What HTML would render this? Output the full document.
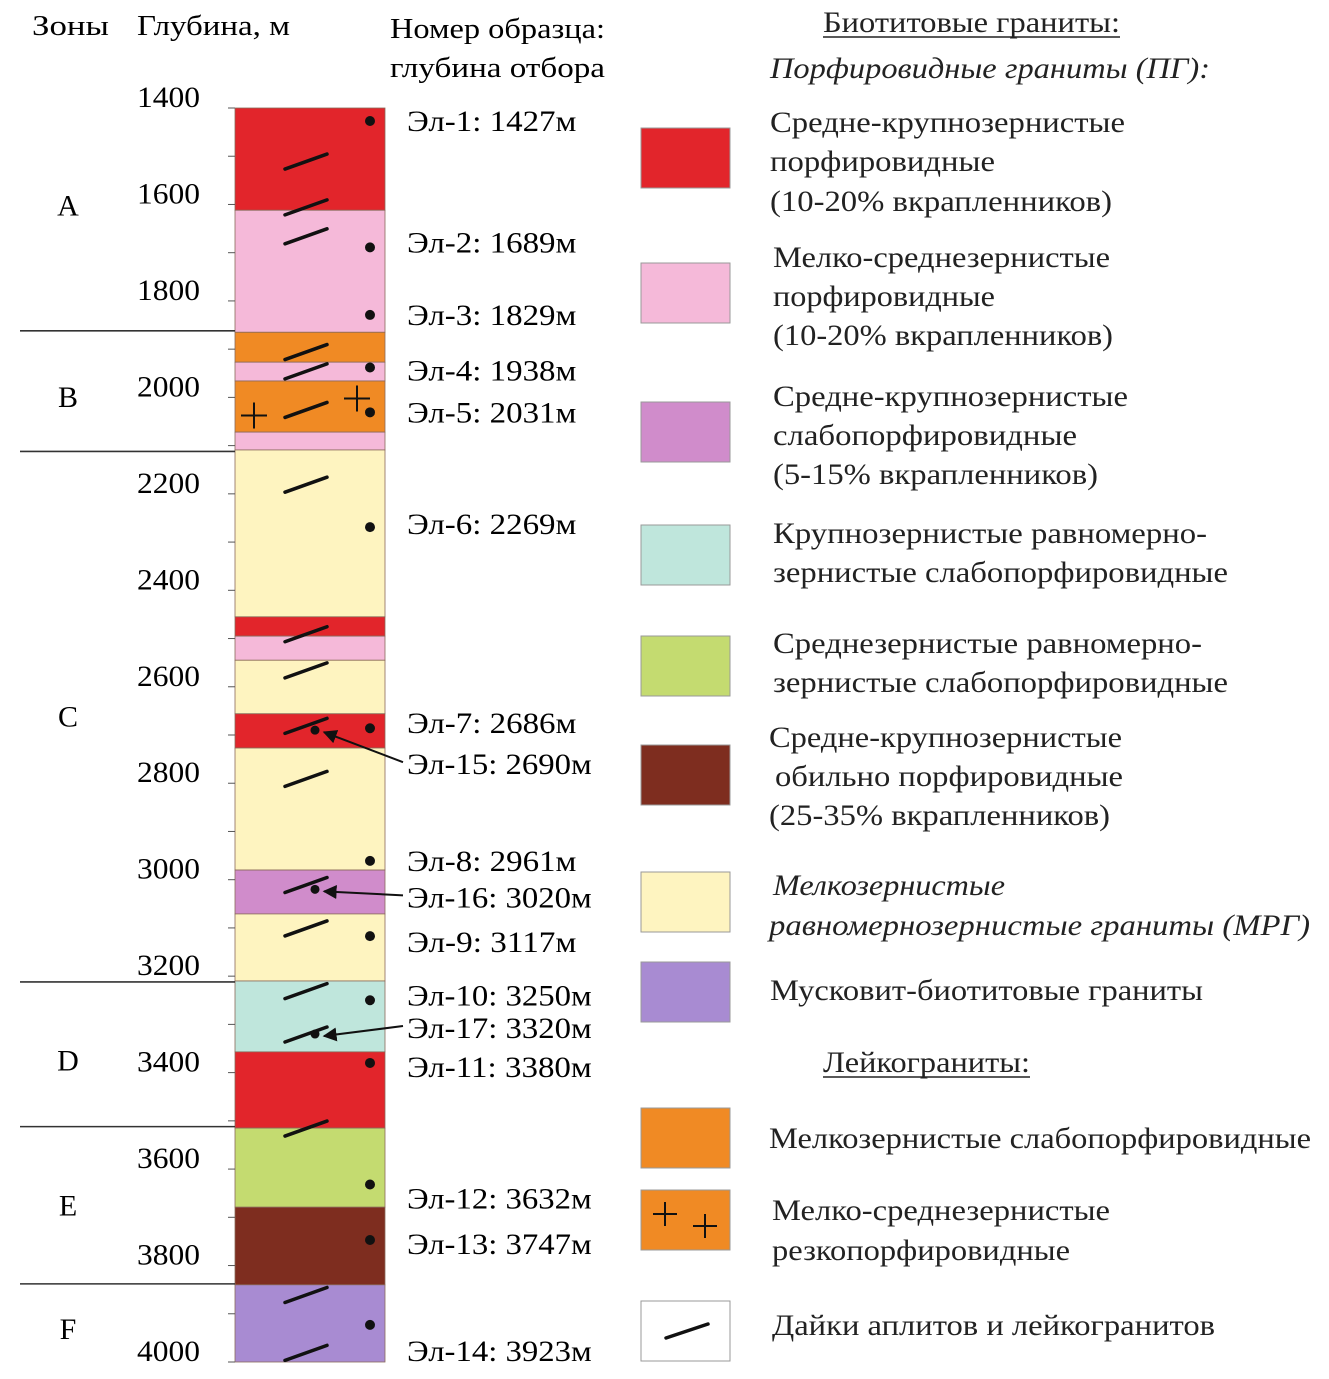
<!DOCTYPE html>
<html><head><meta charset="utf-8">
<style>
html,body{margin:0;padding:0;background:#fff;}
svg{display:block;font-family:"Liberation Serif",serif;}
</style></head>
<body>
<svg id="chart" width="1329" height="1379" viewBox="0 0 1329 1379" xmlns="http://www.w3.org/2000/svg">
<defs>
<marker id="arr" viewBox="0 0 10 10" refX="9" refY="5" markerWidth="7" markerHeight="7" orient="auto"><path d="M0,0 L10,5 L0,10 z" fill="#111"/></marker>
</defs>
<g id="col"></g>
<g id="legend"></g>
</svg>
<script>
const depthTicks=[1400,1600,1800,2000,2200,2400,2600,2800,3000,3200,3400,3600,3800,4000];
const layerTop=[1400,1612,1865,1927,1966,2072,2109,2455,2495,2545,2656,2727,2980,3071,3210,3357,3515,3679,3840];
const layerBottom=[1612,1865,1927,1966,2072,2109,2455,2495,2545,2656,2727,2980,3071,3210,3357,3515,3679,3840,4000];
const layerType=["red","pink","orange","pink","orangePlus","pink","yellow","red","pink","yellow","red","yellow","violet","yellow","teal","red","green","brown","purple"];
const zoneNames=["A","B","C","D","E","F"];
const zoneBounds=[1400,1862,2112,3212,3512,3838,4000];
const sampleNames=["Эл-1","Эл-2","Эл-3","Эл-4","Эл-5","Эл-6","Эл-7","Эл-15","Эл-8","Эл-16","Эл-9","Эл-10","Эл-17","Эл-11","Эл-12","Эл-13","Эл-14"];
const sampleDepths=[1427,1689,1829,1938,2031,2269,2686,2690,2961,3020,3117,3250,3320,3380,3632,3747,3923];
const sampleArrow=[0,0,0,0,0,0,0,1,0,1,0,0,1,0,0,0,0];
const labelShift=[0,-5,0,3,0,-3,-5,34,0,8,6,-5,-6,4,14,4,26];
const dikeDepths=[1510,1605,1665,1905,1945,2025,2180,2490,2565,2680,2790,3010,3100,3230,3320,3515,3860,3980];

const colors={red:"#e2252b",pink:"#f5b9d9",orange:"#f08a24",orangePlus:"#f08a24",yellow:"#fef4c0",violet:"#d08ccb",teal:"#bfe6dc",green:"#c4db70",brown:"#7e2d1f",purple:"#a88bd2"};
const NS="http://www.w3.org/2000/svg";
const y0=108,y1=1362,d0=1400,d1=4000;
function yScale(d){return y0+(d-d0)*(y1-y0)/(d1-d0);}
const colX=235,colW=150;
function mk(tag,attrs,parent,text){const e=document.createElementNS(NS,tag);for(const k in attrs)e.setAttribute(k,attrs[k]);if(text!==undefined)e.textContent=text;parent.appendChild(e);return e;}
const col=document.getElementById('col');
let t;
t=mk('text',{x:32,y:35,'font-size':29,textLength:77,lengthAdjust:'spacingAndGlyphs'},col,'Зоны');

t=mk('text',{x:137,y:35,'font-size':29,textLength:153,lengthAdjust:'spacingAndGlyphs'},col,'Глубина, м');

t=mk('text',{x:390,y:38,'font-size':29,textLength:215,lengthAdjust:'spacingAndGlyphs'},col,'Номер образца:');

t=mk('text',{x:390,y:77,'font-size':29,textLength:215,lengthAdjust:'spacingAndGlyphs'},col,'глубина отбора');

for(let i=0;i<layerTop.length;i++){
 const ya=yScale(layerTop[i]),yb=yScale(layerBottom[i]);
 const r=mk('rect',{x:colX,y:ya,width:colW,height:yb-ya,fill:colors[layerType[i]],stroke:'#8a6a5a','stroke-width':0.8},col);
 
 
 if(layerType[i]==='orangePlus'){
  const m=(ya+yb)/2;
  [[colX+19,m+9],[colX+122,m-8]].forEach(p=>{
   const g=mk('path',{d:`M${p[0]-13},${p[1]} h26 M${p[0]},${p[1]-13} v26`,stroke:'#111','stroke-width':2,fill:'none'},col);
   
   
  });
 }
}
for(let d=1400;d<=4000;d+=100){
 const y=yScale(d);
 const l=mk('line',{x1:228,x2:colX,y1:y,y2:y,stroke:'#555','stroke-width':1},col);
 
 
}
depthTicks.forEach(d=>{
 const tx=mk('text',{x:137,y:yScale(d)-1,'font-size':30,textLength:63,lengthAdjust:'spacingAndGlyphs'},col,String(d));
 
 
});
for(let i=1;i<zoneBounds.length-1;i++){
 const y=yScale(zoneBounds[i]);
 const l=mk('line',{x1:20,x2:colX,y1:y,y2:y,stroke:'#333','stroke-width':1.6},col);
 
 
}
zoneNames.forEach((z,i)=>{
 let m=(yScale(zoneBounds[i])+yScale(zoneBounds[i+1]))/2;
 if(i===0)m-=14;
 if(i===1||i===3||i===5)m+=6;
 const tx=mk('text',{x:68,y:m+10,'font-size':30,'text-anchor':'middle'},col,z);
 
 
});
dikeDepths.forEach(d=>{
 const y=yScale(d);
 const l=mk('line',{x1:285,y1:y+8,x2:327,y2:y-7,stroke:'#111','stroke-width':3.5,'stroke-linecap':'round'},col);
 
 
});
sampleNames.forEach((n,i)=>{
 const y=yScale(sampleDepths[i]);
 const ly=y+labelShift[i];
 if(sampleArrow[i]){
  const c=mk('circle',{cx:315,cy:y,r:4.5,fill:'#111'},col);
  
  
  const a=mk('line',{x1:403,y1:ly-2,x2:324,y2:y+2,stroke:'#111','stroke-width':2,'marker-end':'url(#arr)'},col);
  
  
 } else {
  const c=mk('circle',{cx:370,cy:y,r:5,fill:'#111'},col);
  
  
 }
 const s=n+': '+sampleDepths[i]+'м';
 const tx=mk('text',{x:407,y:ly+10,'font-size':30,textLength:s.length*15.4,lengthAdjust:'spacingAndGlyphs'},col,s);
 
 
});
const lg=document.getElementById('legend');
const swatches=[["red",128],["pink",263],["violet",402],["teal",525],["green",636],["brown",745],["yellow",872],["purple",962],["orange",1108],["orangePlus",1190],["dike",1301]];
swatches.forEach(s=>{
 const r=mk('rect',{x:641,y:s[1],width:89,height:60,fill:s[0]==='dike'?'#fff':colors[s[0]],stroke:'#999','stroke-width':1},lg);
 
 
 if(s[0]==='orangePlus'){
  const g=mk('path',{d:`M653,${s[1]+24} h24 M665,${s[1]+12} v24 M693,${s[1]+36} h24 M705,${s[1]+24} v24`,stroke:'#111','stroke-width':2,fill:'none'},lg);
  
  
 }
 if(s[0]==='dike'){
  const g=mk('line',{x1:666,y1:s[1]+37,x2:708,y2:s[1]+23,stroke:'#111','stroke-width':3.5,'stroke-linecap':'round'},lg);
  
  
 }
});
const lines=[
["Биотитовые граниты:",823,22,1120,"u"],
["Порфировидные граниты (ПГ):",770,68,1210,"i"],
["Средне-крупнозернистые",770,122,1125],
["порфировидные",770,161,995],
["(10-20% вкрапленников)",770,201,1112],
["Мелко-среднезернистые",773,257,1110],
["порфировидные",773,296,995],
["(10-20% вкрапленников)",773,335,1113],
["Средне-крупнозернистые",773,396,1128],
["слабопорфировидные",773,435,1077],
["(5-15% вкрапленников)",773,474,1098],
["Крупнозернистые равномерно-",773,533,1207],
["зернистые слабопорфировидные",773,572,1228],
["Среднезернистые равномерно-",773,643,1202],
["зернистые слабопорфировидные",773,682,1228],
["Средне-крупнозернистые",769,737,1122],
["обильно порфировидные",775,776,1123],
["(25-35% вкрапленников)",769,815,1110],
["Мелкозернистые",773,885,1005,"i"],
["равномернозернистые граниты (МРГ)",769,925,1310,"i"],
["Мусковит-биотитовые граниты",770,990,1203],
["Лейкограниты:",823,1062,1030,"u"],
["Мелкозернистые слабопорфировидные",769,1138,1311],
["Мелко-среднезернистые",772,1210,1110],
["резкопорфировидные",772,1250,1070],
["Дайки аплитов и лейкогранитов",772,1325,1215]];
lines.forEach(L=>{
 const a={x:L[1],y:L[2]+10,'font-size':30,textLength:L[3]-L[1],lengthAdjust:'spacingAndGlyphs',fill:'#222'};
 if(L[4]==='i')a['font-style']='italic';
 const tx=mk('text',a,lg,L[0]);
 
 
 if(L[4]==='u'){
  const u=mk('line',{x1:L[1],x2:L[3],y1:L[2]+15,y2:L[2]+15,stroke:'#222','stroke-width':1.5},lg);
  
  
 }
});
</script>
</body></html>
